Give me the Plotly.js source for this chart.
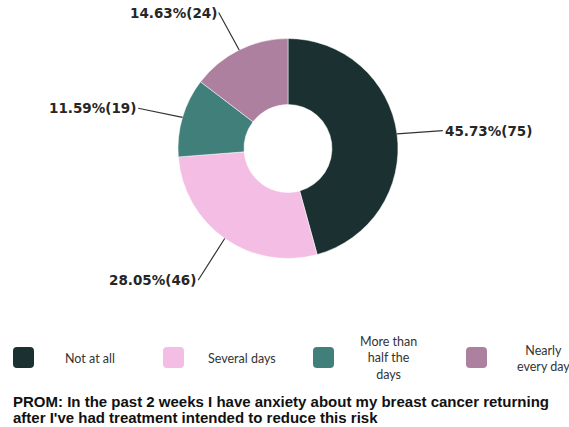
<!DOCTYPE html>
<html>
<head>
<meta charset="utf-8">
<script src="https://cdn.plot.ly/plotly-3.0.1.min.js"></script>
<style>html,body{margin:0;padding:0;background:#fff;}#chart{width:569px;height:427px;}</style>
</head>
<body>
<div id="chart"></div>
<script>
// ---- data ----
var categories = ["Not at all", "Several days", "More than half the days", "Nearly every day"];
var legendLabels = ["Not at all", "Several days", "More than<br>half the<br>days", "Nearly<br>every day"];
var counts = [75, 46, 19, 24];
var colors = ["#1b3131", "#f4bde3", "#417f7b", "#ae809f"];
var titleLines = [
  "PROM: In the past 2 weeks I have anxiety about my breast cancer returning",
  "after I've had treatment intended to reduce this risk"
];

// ---- layout constants ----
var W = 569, H = 427;
var cx = 288, cy = 148.5, R = 110;
function px(x){ return x / W; }
function py(y){ return 1 - y / H; }

var total = counts.reduce(function(a,b){return a+b;}, 0);

var trace = {
  type: "pie",
  labels: categories,
  values: counts,
  sort: false,
  direction: "clockwise",
  rotation: 0,
  hole: 0.4,
  textinfo: "none",
  hoverinfo: "label+value+percent",
  marker: { colors: colors, line: { color: "#ffffff", width: 0.5 } },
  domain: { x: [px(cx - R), px(cx + R)], y: [py(cy + R), py(cy - R)] },
  showlegend: false
};

var annotations = [];
var shapes = [];

// slice labels with leader lines, positioned from the data angles
var cum = 0;
counts.forEach(function(v, i){
  var mid = (cum + v / 2) / total * 2 * Math.PI;
  cum += v;
  var s = Math.sin(mid), c = Math.cos(mid);
  var hx = cx + R * s, hy = cy - R * c;
  var tr = 0.42 * R;
  annotations.push({
    x: px(hx), y: py(hy), xref: "paper", yref: "paper",
    text: (v / total * 100).toFixed(2) + "%(" + v + ")",
    showarrow: true, arrowhead: 0, arrowwidth: 1.2, arrowcolor: "#333333",
    standoff: 0, startstandoff: 0,
    ax: tr * s, ay: -tr * c + (s > 0 ? 3 : 4),
    xanchor: s > 0 ? "left" : "right", yanchor: "middle",
    font: { family: "DejaVu Sans", size: 13.5, color: "#262626", weight: "bold" }
  });
});

// custom legend (rounded swatches + centered text)
var swatchX = [13, 163, 313, 466];
var textX = [90, 242, 388, 543];
var sw = 21, sy = 347, rr = 4;
legendLabels.forEach(function(lab, i){
  var x0 = swatchX[i], x1 = x0 + sw, y0 = sy, y1 = sy + sw;
  var path = "M" + px(x0 + rr) + "," + py(y0) +
    " L" + px(x1 - rr) + "," + py(y0) +
    " Q" + px(x1) + "," + py(y0) + " " + px(x1) + "," + py(y0 + rr) +
    " L" + px(x1) + "," + py(y1 - rr) +
    " Q" + px(x1) + "," + py(y1) + " " + px(x1 - rr) + "," + py(y1) +
    " L" + px(x0 + rr) + "," + py(y1) +
    " Q" + px(x0) + "," + py(y1) + " " + px(x0) + "," + py(y1 - rr) +
    " L" + px(x0) + "," + py(y0 + rr) +
    " Q" + px(x0) + "," + py(y0) + " " + px(x0 + rr) + "," + py(y0) + " Z";
  shapes.push({ type: "path", xref: "paper", yref: "paper", path: path,
    fillcolor: colors[i], line: { width: 0 } });
  annotations.push({
    x: px(textX[i]), y: py(358), xref: "paper", yref: "paper",
    text: lab, showarrow: false, align: "center",
    xanchor: "center", yanchor: "middle",
    font: { family: "Lato", size: 12.5, color: "#333333" }
  });
});

// bottom caption
annotations.push({
  x: px(11), y: py(401), xref: "paper", yref: "paper",
  text: titleLines[0], showarrow: false, xanchor: "left", yanchor: "middle",
  font: { family: "Liberation Sans", size: 15, color: "#111111", weight: "bold" }
});
annotations.push({
  x: px(11), y: py(417), xref: "paper", yref: "paper",
  text: titleLines[1], showarrow: false, xanchor: "left", yanchor: "middle",
  font: { family: "Liberation Sans", size: 15, color: "#111111", weight: "bold" }
});

var layout = {
  width: W, height: H,
  margin: { l: 0, r: 0, t: 0, b: 0 },
  paper_bgcolor: "#ffffff",
  plot_bgcolor: "#ffffff",
  showlegend: false,
  annotations: annotations,
  shapes: shapes
};

Plotly.newPlot("chart", [trace], layout, { displayModeBar: false, staticPlot: true });
</script>
</body>
</html>
